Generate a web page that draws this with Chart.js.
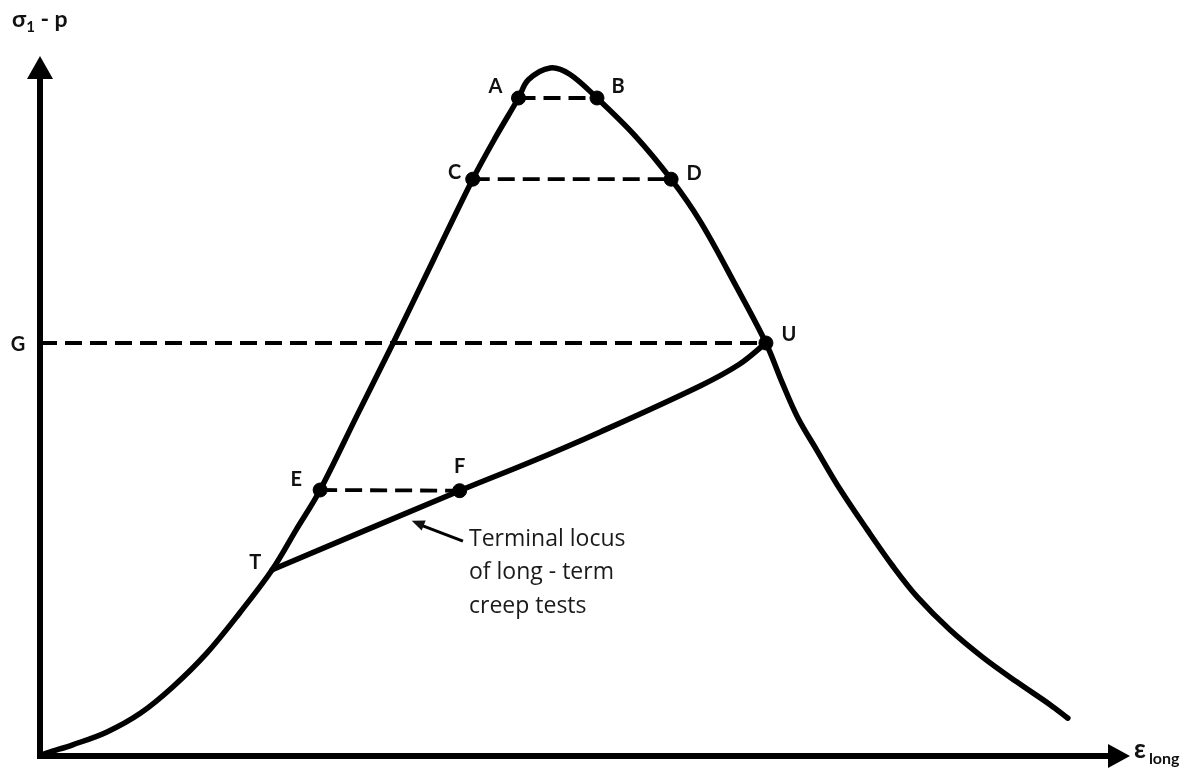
<!DOCTYPE html>
<html>
<head>
<meta charset="utf-8">
<script src="https://cdn.jsdelivr.net/npm/chart.js@4.4.1/dist/chart.umd.min.js"></script>
<style>
  html, body { margin: 0; padding: 0; background: #fff; }
  #wrap { width: 1197px; height: 769px; position: relative; }
  canvas { display: block; }
</style>
</head>
<body>
<div id="wrap"><canvas id="c" width="1197" height="769"></canvas></div>
<script>
// Stress–strain response (deviator stress vs. axial strain), relative units 0–100
const curveStrain = [0, 0.6, 3.0, 6.1, 9.2, 12.2, 15.3, 18.3, 21.3, 23.5, 25.7, 29.1, 32.4, 36.1, 39.7, 41.8, 43.9, 44.8, 46.8, 48.6, 51.1, 54.6, 57.9, 60.6, 63.8, 66.6, 68.1, 69.5, 71.3, 73.4, 75.9, 78.3, 80.5, 83.5, 86.5, 89.6, 92.7, 94.3];
const curveStress = [0, 0.4, 1.6, 3.4, 6.1, 9.9, 14.7, 20.4, 26.6, 32.3, 38.0, 48.7, 59.0, 70.9, 82.4, 88.4, 94.0, 96.6, 98.3, 97.4, 94.0, 88.6, 82.4, 76.3, 67.3, 59.0, 53.3, 48.4, 43.6, 38.1, 32.3, 27.0, 22.7, 18.0, 14.1, 10.6, 7.3, 5.4];

// Terminal locus of long-term creep tests (T → F → U)
const locusStrain = [21.3, 38.5, 45.0, 51.4, 60.6, 64.2, 66.6];
const locusStress = [26.6, 37.9, 42.0, 46.3, 52.9, 56.0, 59.0];

// Named points on the curves
const pointNames  = ['A', 'B', 'C', 'D', 'E', 'F', 'U', 'T'];
const pointStrain = [43.9, 51.1, 39.7, 57.9, 25.7, 38.5, 66.6, 21.3];
const pointStress = [94.0, 94.0, 82.4, 82.4, 38.0, 37.9, 59.0, 26.6];
const markedPoints = ['A', 'B', 'C', 'D', 'E', 'F', 'U'];

// Creep test stress levels: pairs of points joined by dashed lines
const creepPairs = [['A', 'B'], ['C', 'D'], ['E', 'F']];
const levelG = 59.0;          // stress level G, drawn from the axis to U
const levelGEnd = 66.6;

const axisTitleY = 'σ';
const axisTitleYSub = '1';
const axisTitleYRest = ' - p';
const axisTitleX = 'ε';
const axisTitleXSub = 'long';
const noteLines = ['Terminal locus', 'of long - term', 'creep tests'];

const pt = name => {
  const i = pointNames.indexOf(name);
  return { x: pointStrain[i], y: pointStress[i] };
};

const zip = (xs, ys) => xs.map((x, i) => ({ x, y: ys[i] }));

const solid = { showLine: true, borderColor: '#000', borderWidth: 5.5, pointRadius: 0,
  tension: 0.35, clip: false, fill: false, borderCapStyle: 'round', borderJoinStyle: 'round' };
const dashed = { showLine: true, borderColor: '#000', borderWidth: 3.8, pointRadius: 0,
  borderDash: [17, 8], clip: false, fill: false };

const datasets = [
  Object.assign({ label: 'curve', data: zip(curveStrain, curveStress) }, solid),
  Object.assign({ label: 'locus', data: zip(locusStrain, locusStress) }, solid),
  ...creepPairs.map(([a, b]) => Object.assign({ label: a + b, data: [pt(a), pt(b)] }, dashed)),
  Object.assign({ label: 'G', data: [{ x: 0, y: levelG }, { x: levelGEnd, y: levelG }] }, dashed),
  { label: 'marks', data: markedPoints.map(pt), showLine: false, pointRadius: 7,
    pointBackgroundColor: '#000', pointBorderColor: '#000', clip: false }
];

// label offsets relative to each point, in px
const labelOffsets = {
  A: [-23, -11], B: [21, -11], C: [-18, -7], D: [23, -6], E: [-24, -10],
  F: [0, -24], U: [23, -8], T: [-17, -7]
};

const diagramPlugin = {
  id: 'diagram',
  afterDatasetsDraw(chart) {
    const { ctx, chartArea: ca, scales: { x, y } } = chart;
    ctx.save();
    ctx.fillStyle = '#000';
    ctx.strokeStyle = '#000';

    // axes with arrowheads
    ctx.lineWidth = 6;
    ctx.lineCap = 'butt';
    ctx.beginPath();
    ctx.moveTo(ca.left, ca.bottom + 3);
    ctx.lineTo(ca.left, ca.top + 22);
    ctx.moveTo(ca.left - 3, ca.bottom);
    ctx.lineTo(ca.right - 20, ca.bottom);
    ctx.stroke();
    ctx.beginPath();
    ctx.moveTo(ca.left, ca.top);
    ctx.lineTo(ca.left - 13, ca.top + 23);
    ctx.lineTo(ca.left + 13, ca.top + 23);
    ctx.closePath();
    ctx.fill();
    ctx.beginPath();
    ctx.moveTo(ca.right, ca.bottom);
    ctx.lineTo(ca.right - 22, ca.bottom - 12);
    ctx.lineTo(ca.right - 22, ca.bottom + 12);
    ctx.closePath();
    ctx.fill();

    // point letters
    ctx.fillStyle = '#111';
    ctx.font = 'bold 20px Lato, "Open Sans", sans-serif';
    ctx.textAlign = 'center';
    ctx.textBaseline = 'middle';
    pointNames.forEach((n, i) => {
      const px = x.getPixelForValue(pointStrain[i]);
      const py = y.getPixelForValue(pointStress[i]);
      const [dx, dy] = labelOffsets[n];
      ctx.fillText(n, px + dx, py + dy);
    });
    ctx.fillText('G', ca.left - 22, y.getPixelForValue(levelG) + 2);

    // axis titles
    ctx.textAlign = 'left';
    ctx.textBaseline = 'alphabetic';
    ctx.font = 'bold 23px Lato, "Open Sans", sans-serif';
    let tx = 12;
    ctx.fillText(axisTitleY, tx, 27);
    tx += ctx.measureText(axisTitleY).width;
    ctx.font = 'bold 15px Lato, "Open Sans", sans-serif';
    ctx.fillText(axisTitleYSub, tx, 32);
    tx += ctx.measureText(axisTitleYSub).width;
    ctx.font = 'bold 23px Lato, "Open Sans", sans-serif';
    ctx.fillText(axisTitleYRest, tx, 27);

    ctx.font = 'bold 26px Lato, "Open Sans", sans-serif';
    let ex = 1134;
    ctx.fillText(axisTitleX, ex, 758);
    ex += ctx.measureText(axisTitleX).width + 3;
    ctx.font = 'bold 16px Lato, "Open Sans", sans-serif';
    ctx.fillText(axisTitleXSub, ex, 764);

    // annotation for the terminal locus
    const tipX = x.getPixelForValue(34.1), tipY = y.getPixelForValue(33.6);
    const tailX = x.getPixelForValue(38.8), tailY = y.getPixelForValue(30.7);
    ctx.lineWidth = 3;
    ctx.beginPath();
    ctx.moveTo(tailX, tailY);
    ctx.lineTo(tipX + 6, tipY + 3);
    ctx.stroke();
    const ang = Math.atan2(tipY - tailY, tipX - tailX);
    ctx.beginPath();
    ctx.moveTo(tipX, tipY);
    ctx.lineTo(tipX - 14 * Math.cos(ang - 0.4), tipY - 14 * Math.sin(ang - 0.4));
    ctx.lineTo(tipX - 14 * Math.cos(ang + 0.4), tipY - 14 * Math.sin(ang + 0.4));
    ctx.closePath();
    ctx.fill();

    ctx.fillStyle = '#1a1a1a';
    ctx.font = '23px "Open Sans", Lato, sans-serif';
    ctx.textBaseline = 'middle';
    noteLines.forEach((line, i) => ctx.fillText(line, 469, 539 + i * 33.5));
    ctx.restore();
  }
};

new Chart(document.getElementById('c'), {
  type: 'scatter',
  data: { datasets },
  options: {
    responsive: false,
    animation: false,
    devicePixelRatio: 1,
    layout: { padding: { left: 40, top: 56, right: 67, bottom: 13 } },
    plugins: { legend: { display: false }, tooltip: { enabled: false } },
    scales: {
      x: { type: 'linear', min: 0, max: 100, display: false },
      y: { type: 'linear', min: 0, max: 100, display: false }
    }
  },
  plugins: [diagramPlugin]
});
</script>
</body>
</html>
